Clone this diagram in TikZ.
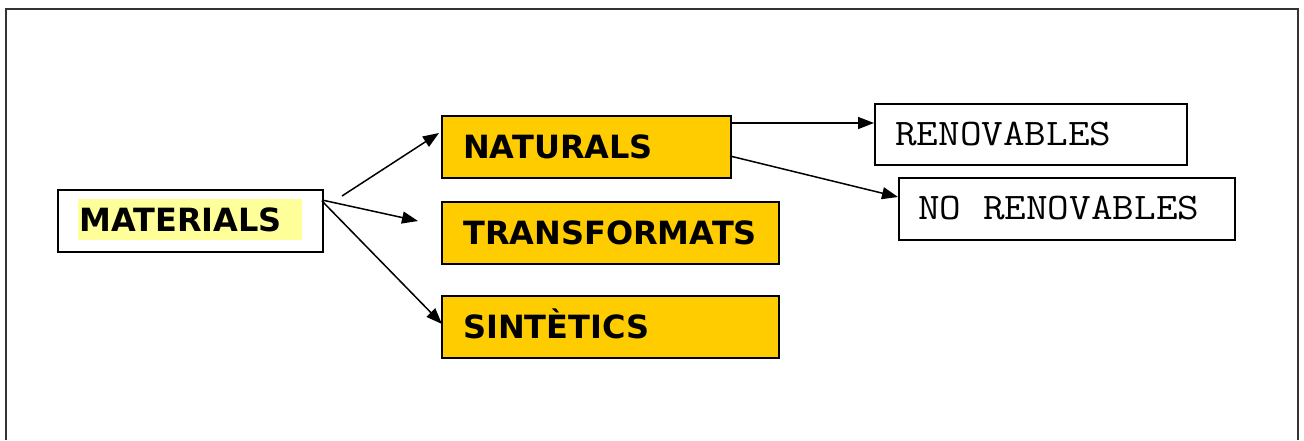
\documentclass[tikz,border=0pt]{standalone}
\usepackage{fontspec}
\usetikzlibrary{arrows.meta}
\newfontfamily\boldsans[BoldFont={DejaVu Sans Bold}]{DejaVu Sans}
\newfontfamily\typewriter[FakeStretch=1.12]{Latin Modern Mono}
\definecolor{gold}{HTML}{FFCC00}
\definecolor{hilite}{HTML}{FFFF99}
\tikzset{
  box/.style={draw=black, line width=1.5pt, rectangle, inner sep=0pt, anchor=north west},
  goldbox/.style={box, fill=gold},
  whitebox/.style={box, fill=white},
  boldlabel/.style={anchor=base west, inner sep=0pt, font=\boldsans\bfseries\fontsize{32}{38}\selectfont},
  monolabel/.style={anchor=base west, inner sep=0pt, font=\typewriter\fontsize{37.5}{42}\selectfont},
  link/.style={line width=1.5pt, -{Triangle[length=16pt,width=12pt]}}
}
\begin{document}
\begin{tikzpicture}[x=1pt,y=-1pt]
  \useasboundingbox (0,0) rectangle (1304,440);
  % open frame
  \draw[black!80, line width=1.6pt] (6,440) -- (6,9) -- (1298,9) -- (1298,440);

  % root
  \node[whitebox, minimum width=265pt, minimum height=62pt] (materials) at (57,189) {};
  \fill[hilite] (78,199) rectangle (302,240);
  \node[boldlabel] (tmaterials) at (79,231) {MATERIALS};

  % categories
  \node[goldbox, minimum width=289pt, minimum height=62pt] (naturals) at (441,115) {};
  \node[boldlabel] (tnaturals) at (463,158) {NATURALS};
  \node[goldbox, minimum width=337pt, minimum height=62pt] (transformats) at (441,201) {};
  \node[boldlabel] (ttransformats) at (463,244) {TRANSFORMATS};
  \node[goldbox, minimum width=337pt, minimum height=62pt] (sintetics) at (441,295) {};
  \node[boldlabel] (tsintetics) at (463,338) {SINTÈTICS};

  % subcategories of natural materials
  \node[whitebox, minimum width=312pt, minimum height=61pt] (renovables) at (874,103) {};
  \node[monolabel] (trenovables) at (895,145) {RENOVABLES};
  \node[whitebox, minimum width=336pt, minimum height=62pt] (norenovables) at (898,177) {};
  \node[monolabel] (tnorenovables) at (918,219) {NO RENOVABLES};

  % connector end points
  \coordinate (m1) at (342,196);
  \coordinate (n1) at (439,133);
  \coordinate (m2) at (322,200);
  \coordinate (t2) at (418,221);
  \coordinate (m3) at (322,201);
  \coordinate (s3) at (442,324);
  \coordinate (n4) at (730,123);
  \coordinate (r4) at (874,123);
  \coordinate (n5) at (730,156);
  \coordinate (r5) at (898,197);

  \draw[link] (m1) -- (n1);
  \draw[link] (m2) -- (t2);
  \draw[link] (m3) -- (s3);
  \draw[link] (n4) -- (r4);
  \draw[link] (n5) -- (r5);
\end{tikzpicture}
\end{document}
